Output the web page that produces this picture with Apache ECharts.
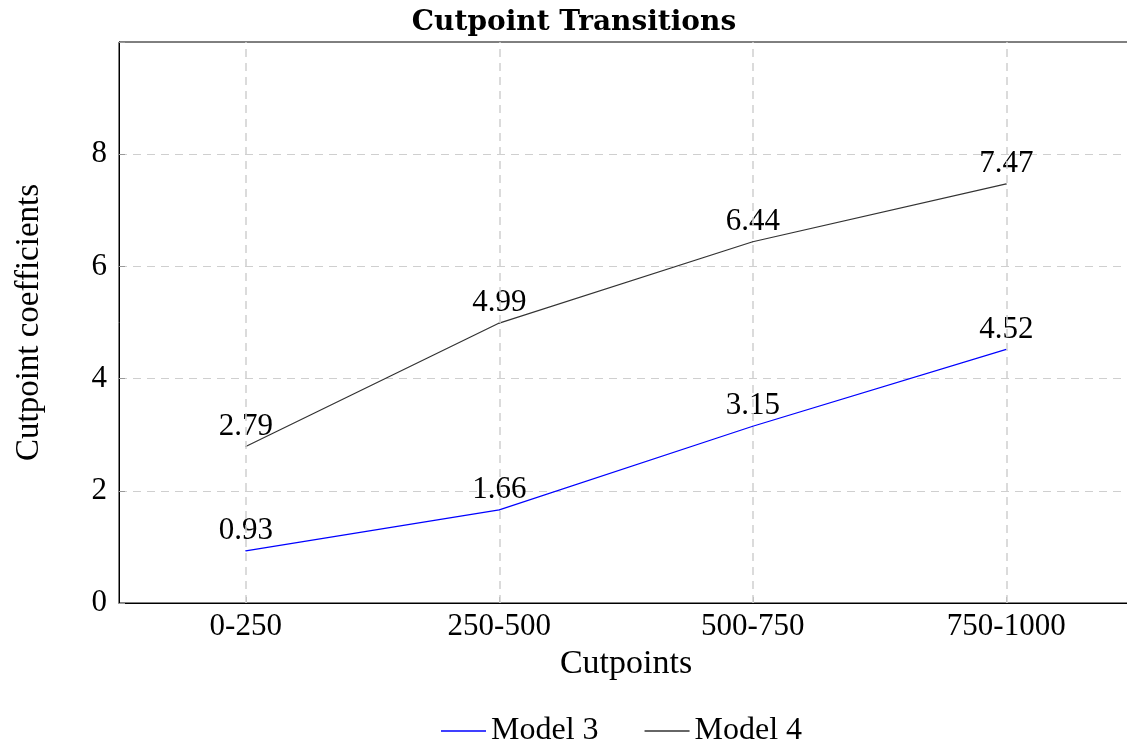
<!DOCTYPE html>
<html>
<head>
<meta charset="utf-8">
<script src="https://cdn.jsdelivr.net/npm/echarts@6/dist/echarts.min.js"></script>
<style>
  html, body { margin: 0; padding: 0; background: #fff; overflow: hidden; }
  #chart { width: 1140px; height: 754px; }
</style>
</head>
<body>
<div id="chart"></div>
<script>
const categories = ['0-250', '250-500', '500-750', '750-1000'];
const model3 = [0.93, 1.66, 3.15, 4.52];
const model4 = [2.79, 4.99, 6.44, 7.47];

const serif = 'Liberation Serif';
const gridColor = '#cfcfcf';

const chart = echarts.init(document.getElementById('chart'));

const labelStyle = {
  show: true,
  position: 'top',
  distance: 4,
  color: '#000',
  fontFamily: serif,
  fontSize: 31
};

const option = {
  animation: false,
  textStyle: { fontFamily: serif },
  title: {
    text: 'Cutpoint Transitions',
    left: 569,
    top: 4,
    textAlign: 'center',
    textStyle: { fontFamily: 'DejaVu Serif', fontSize: 28, fontWeight: 'bold', color: '#000' }
  },
  legend: {
    bottom: 2,
    left: 436,
    icon: 'rect',
    itemWidth: 45,
    itemHeight: 1.5,
    itemGap: 46,
    textStyle: { fontFamily: serif, fontSize: 32, color: '#000' },
    data: ['Model 3', 'Model 4']
  },
  grid: {
    left: 119,
    top: 42,
    width: 1014,
    height: 561,
    show: true,
    borderColor: '#000',
    borderWidth: 1,
    containLabel: false
  },
  xAxis: {
    type: 'category',
    data: categories,
    boundaryGap: true,
    name: 'Cutpoints',
    nameLocation: 'middle',
    nameGap: 44,
    nameTextStyle: { fontFamily: serif, fontSize: 34, color: '#000' },
    axisLine: { lineStyle: { color: '#000', width: 1 } },
    axisTick: { show: true, inside: true, alignWithLabel: true, length: 6, lineStyle: { color: '#999' } },
    axisLabel: { color: '#000', fontFamily: serif, fontSize: 31, margin: 8 },
    splitLine: { show: false }
  },
  yAxis: {
    type: 'value',
    min: 0,
    max: 10,
    interval: 2,
    name: 'Cutpoint coefficients',
    nameLocation: 'middle',
    nameGap: 73,
    nameRotate: 90,
    nameTextStyle: { fontFamily: serif, fontSize: 33, color: '#000' },
    axisLine: { show: true, lineStyle: { color: '#000', width: 1 } },
    axisTick: { show: true, inside: true, length: 6, lineStyle: { color: '#999' } },
    axisLabel: {
      color: '#000', fontFamily: serif, fontSize: 31, margin: 12,
      formatter: v => (v >= 10 ? '' : String(v))
    },
    splitLine: {
      show: true,
      showMinLine: false,
      showMaxLine: false,
      lineStyle: { color: gridColor, type: [8, 6], width: 1.2 }
    }
  },
  series: [
    {
      name: 'Model 3',
      type: 'line',
      data: model3,
      symbol: 'circle',
      symbolSize: 1,
      lineStyle: { color: '#0000ff', width: 1.2 },
      itemStyle: { color: '#0000ff' },
      label: labelStyle,
      markLine: {
        silent: true,
        symbol: 'none',
        label: { show: false },
        lineStyle: { color: gridColor, type: [8, 6], width: 1.5 },
        data: categories.map(c => ({ xAxis: c }))
      },
      z: 3
    },
    {
      name: 'Model 4',
      type: 'line',
      data: model4,
      symbol: 'circle',
      symbolSize: 1,
      lineStyle: { color: '#333', width: 1.2 },
      itemStyle: { color: '#333' },
      label: labelStyle,
      z: 3
    }
  ]
};

chart.setOption(option);
</script>
</body>
</html>
